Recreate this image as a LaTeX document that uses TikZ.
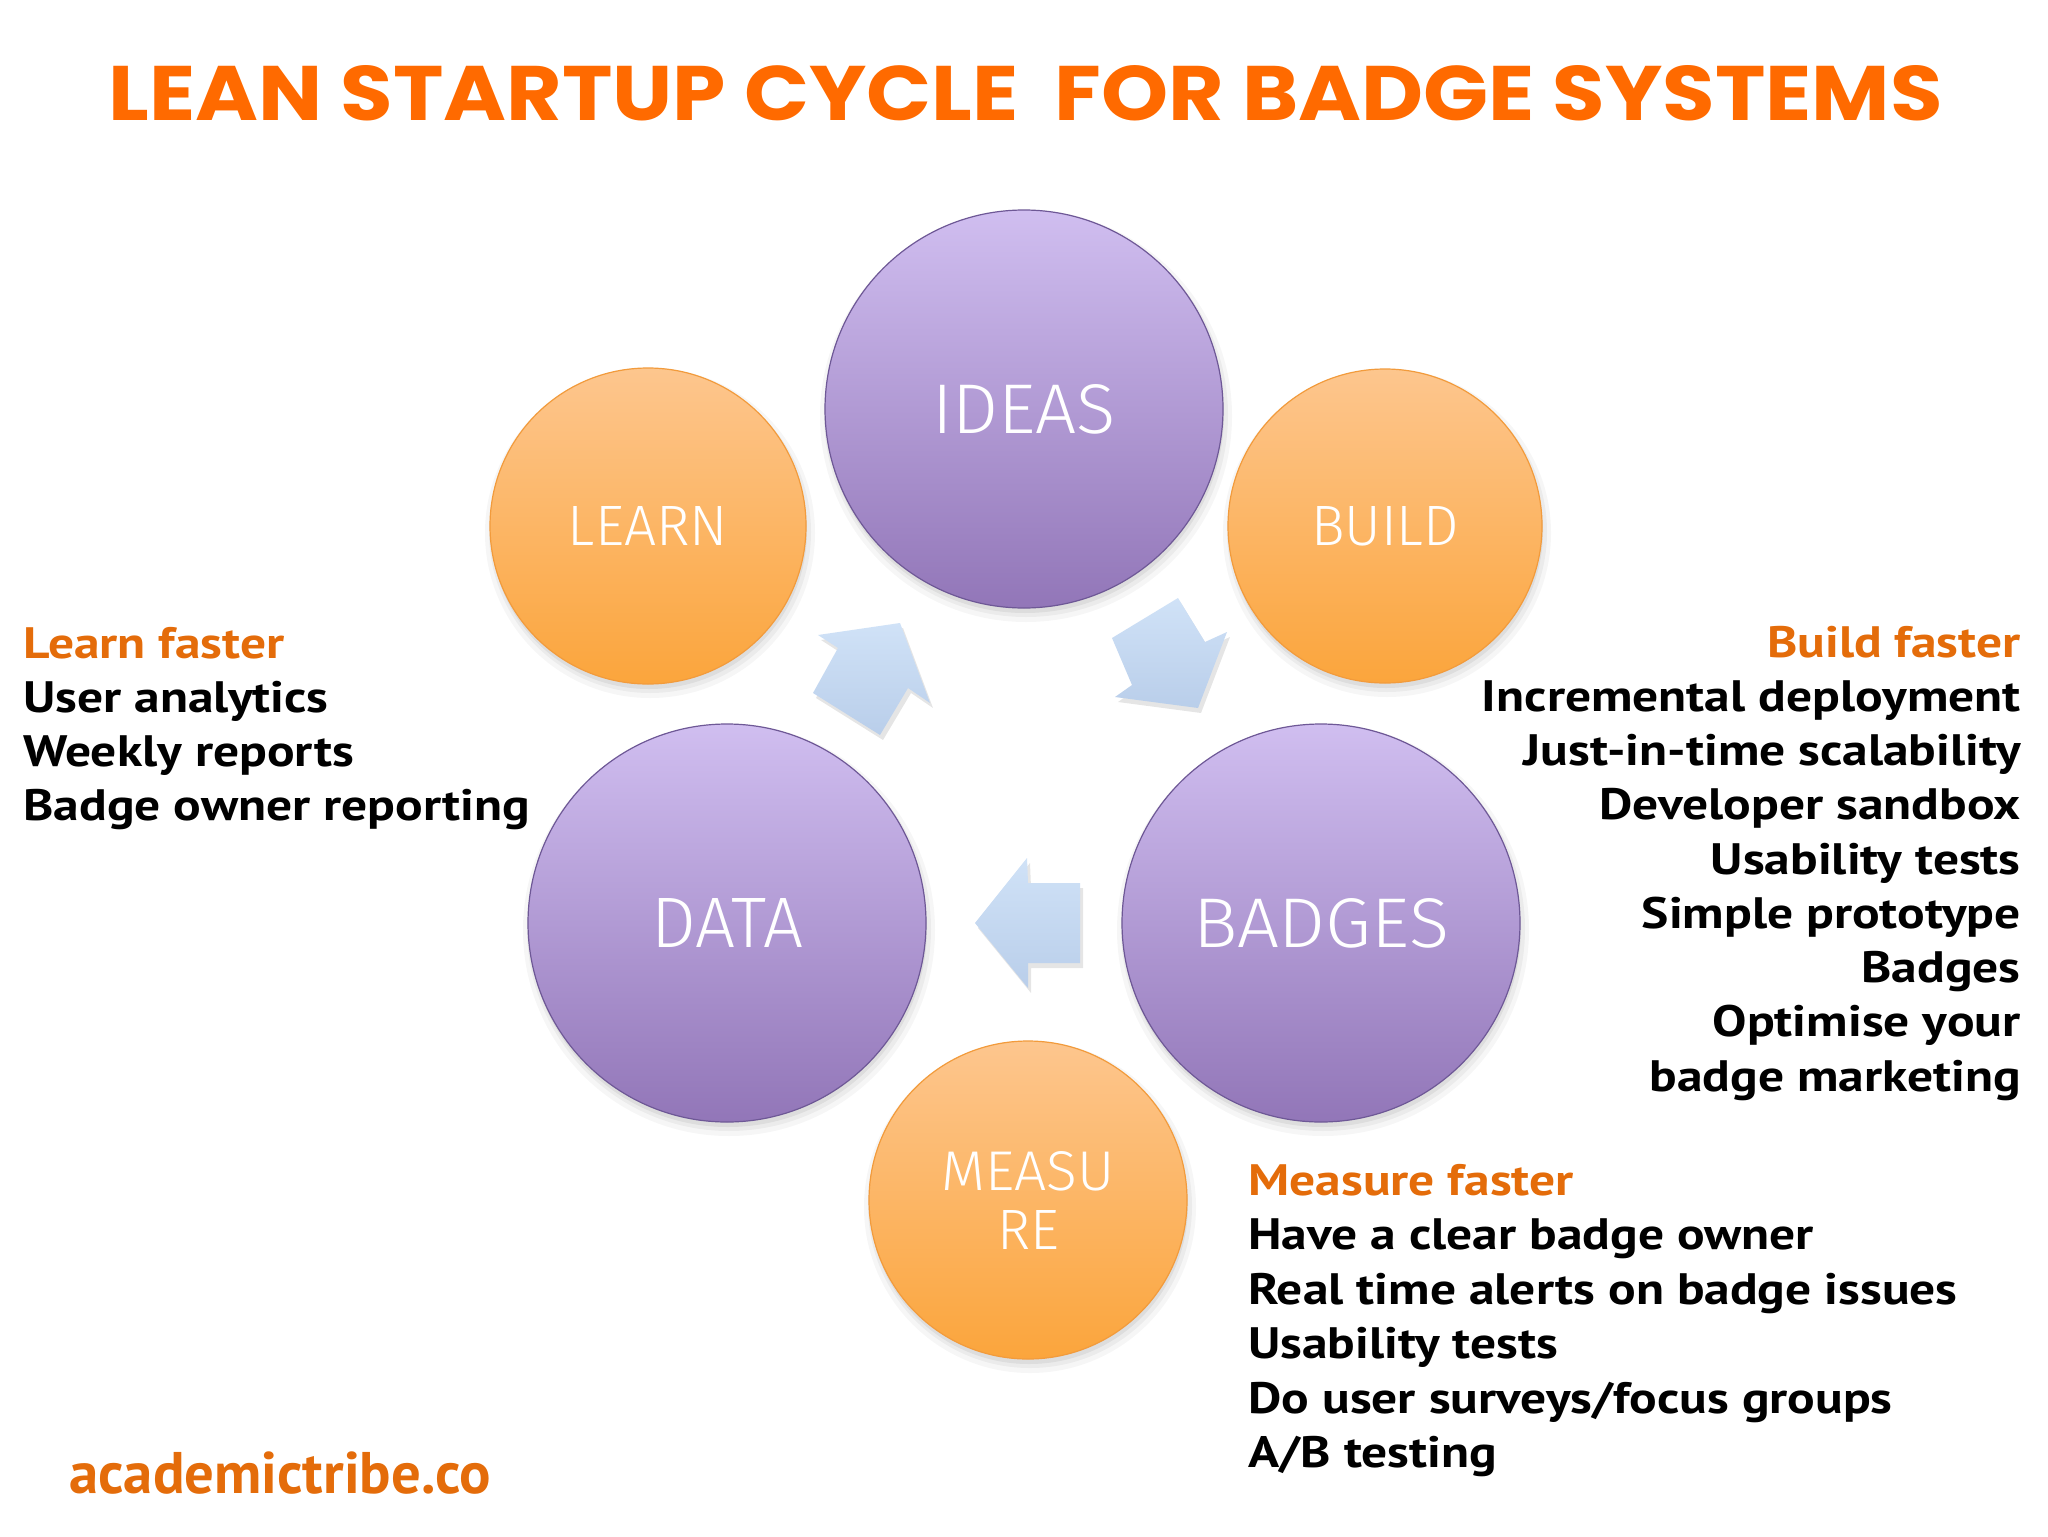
\documentclass[tikz,border=0pt]{standalone}
\usepackage{fontspec}
\usepackage{graphicx}
\setmainfont{PT Sans}[FakeStretch=1.17]
\newfontfamily\footfont{PT Sans}
\newfontfamily\titlefont{Poppins}
\newfontfamily\lightfont{Fira Sans Light}
\definecolor{titleorange}{HTML}{FF6A00}
\definecolor{headorange}{HTML}{E46C0A}
\definecolor{purpletop}{HTML}{D0BEF0}
\definecolor{purplebot}{HTML}{9276B8}
\definecolor{purpleedge}{HTML}{6E5896}
\definecolor{orangetop}{HTML}{FDC68E}
\definecolor{orangebot}{HTML}{FBA53C}
\definecolor{orangeedge}{HTML}{F29B3C}
\definecolor{arrowtop}{HTML}{D0E2F7}
\definecolor{arrowbot}{HTML}{B9CEEA}
\tikzset{
  cyc/.style={circle, inner sep=0pt, outer sep=0pt, line width=0.6pt, text=white, font=\lightfont},
  purplec/.style={cyc, draw=purpleedge, top color=purpletop, bottom color=purplebot},
  orangec/.style={cyc, draw=orangeedge, top color=orangetop, bottom color=orangebot},
  headtxt/.style={inner sep=0pt, text=headorange, font=\bfseries\fontsize{22}{27}\selectfont},
  bodytxt/.style={inner sep=0pt, text=black, font=\bfseries\fontsize{22}{27}\selectfont},
  arrowshape/.style={top color=arrowtop, bottom color=arrowbot, draw=none},
  shadowfill/.style={fill=black, opacity=#1, draw=none}
}
\begin{document}
\begin{tikzpicture}[x=0.5pt,y=-0.5pt]
\useasboundingbox[fill=white] (0,0) rectangle (2048,1536);

% title
\node[anchor=base west, inner sep=0pt, text=titleorange] (title) at (108,120)
  {\resizebox{917pt}{27.5pt}{\titlefont\bfseries LEAN STARTUP CYCLE\ \ FOR BADGE SYSTEMS}};

% circle centres and soft shadows
\foreach \n/\x/\y/\r in {ideas/1024/409/199, learn/648/526/158, build/1385/526/157,
                         data/727/923/199, badges/1321/923/199, measure/1028/1200/159}{
  \coordinate (\n C) at (\x,\y);
  \fill[shadowfill=0.035] ([shift={(2,7)}]\n C) circle[radius=\r+7];
  \fill[shadowfill=0.045] ([shift={(2,6)}]\n C) circle[radius=\r+3];
  \fill[shadowfill=0.06] ([shift={(1,5)}]\n C) circle[radius=\r];
}

% circles
\node[purplec, minimum size=199pt] (ideas) at (ideasC) {\resizebox{92pt}{24.5pt}{IDEAS}};
\node[orangec, minimum size=158pt] (learn) at (learnC) {\resizebox{80pt}{19.5pt}{LEARN}};
\node[orangec, minimum size=157pt] (build) at (buildC) {\resizebox{74pt}{19.5pt}{BUILD}};
\node[purplec, minimum size=199pt] (data) at (dataC) {\resizebox{76pt}{24.5pt}{DATA}};
\node[purplec, minimum size=199pt] (badges) at (badgesC) {\resizebox{128pt}{24.5pt}{BADGES}};
\node[orangec, minimum size=159pt, align=center, font=\lightfont\fontsize{10}{29.5}\selectfont] (measure) at (measureC)
  {\resizebox{86.5pt}{19.5pt}{MEASU}\\\resizebox{31pt}{19.5pt}{RE}};

% block arrows (shadow first)
\fill[shadowfill=0.10, shift={(3,5)}] (813,693) -- (838,648) -- (818,635) -- (900,623) -- (930,703) -- (908,688) -- (880,735) -- cycle;
\shade[arrowshape] (813,693) -- (838,648) -- (818,635) -- (900,623) -- (930,703) -- (908,688) -- (880,735) -- cycle;

\fill[shadowfill=0.10, shift={(3,5)}] (1112,638) -- (1178,598) -- (1205,642) -- (1227,632) -- (1198,708) -- (1115,697) -- (1132,685) -- cycle;
\shade[arrowshape] (1112,638) -- (1178,598) -- (1205,642) -- (1227,632) -- (1198,708) -- (1115,697) -- (1132,685) -- cycle;

\fill[shadowfill=0.10, shift={(3,5)}] (1080,883) -- (1028,883) -- (1027,858) -- (975,923) -- (1028,988) -- (1028,963) -- (1080,963) -- cycle;
\shade[arrowshape] (1080,883) -- (1028,883) -- (1027,858) -- (975,923) -- (1028,988) -- (1028,963) -- (1080,963) -- cycle;

% Learn faster block
\node[headtxt, anchor=base west] (learnhead) at (23,658) {Learn faster};
\foreach \t [count=\i] in {User analytics, Weekly reports, Badge owner reporting}{
  \node[bodytxt, anchor=base west] (learnline\i) at (23,{658+54*\i}) {\t};
}

% Build faster block
\node[headtxt, anchor=base east] (buildhead) at (2021,657) {Build faster};
\foreach \t [count=\i] in {Incremental deployment, Just-in-time scalability, Developer sandbox,
    Usability tests, Simple prototype, Badges, Optimise your, badge marketing}{
  \node[bodytxt, anchor=base east] (buildline\i) at (2021,{657+54.25*\i}) {\t};
}

% Measure faster block
\node[headtxt, anchor=base west] (measurehead) at (1248,1195) {Measure faster};
\foreach \t [count=\i] in {Have a clear badge owner, Real time alerts on badge issues, Usability tests,
    {Do user surveys/focus groups}, {A/B testing}}{
  \node[bodytxt, anchor=base west] (measureline\i) at (1248,{1195+54.5*\i}) {\t};
}

% footer
\node[anchor=base west, inner sep=0pt, text=headorange] (footer) at (69,1493)
  {\resizebox{211pt}{!}{\footfont\bfseries academictribe.co}};
\end{tikzpicture}
\end{document}
